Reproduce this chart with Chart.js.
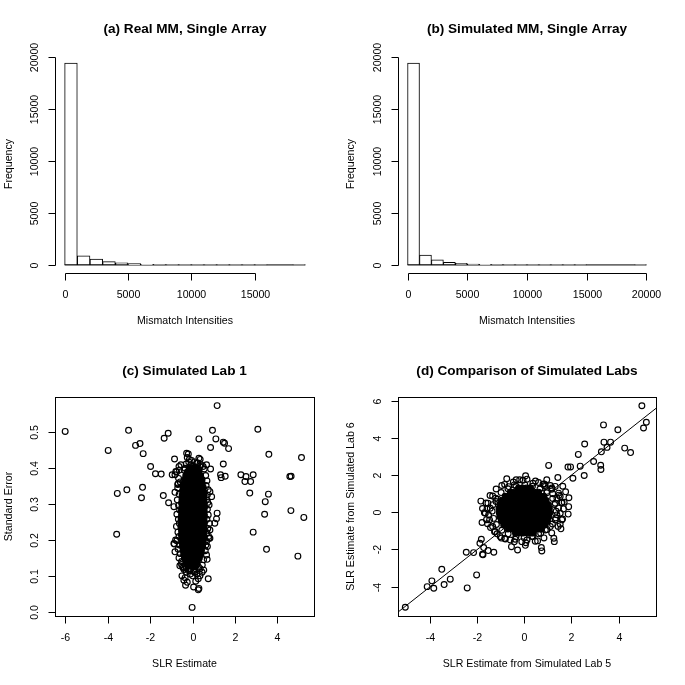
<!DOCTYPE html>
<html>
<head>
<meta charset="utf-8">
<script src="https://cdn.jsdelivr.net/npm/chart.js@4/dist/chart.umd.min.js"></script>
<style>
  html, body { margin: 0; padding: 0; background: #fff; }
  #wrap { position: relative; width: 685px; height: 685px; background: #fff; }
  canvas { position: absolute; }
</style>
</head>
<body>
<div id="wrap">
  <canvas id="pa" width="342" height="342" style="left:0;top:0"></canvas>
  <canvas id="pb" width="343" height="342" style="left:342px;top:0"></canvas>
  <canvas id="pc" width="342" height="343" style="left:0;top:342px"></canvas>
  <canvas id="pd" width="343" height="343" style="left:342px;top:342px"></canvas>
</div>
<script>
// histogram bins (width 1000) and counts
const binWidth = 1000;
const realCounts = [19400, 865, 550, 320, 190, 120, 65, 35, 20, 12, 8, 5, 3, 2, 1, 1, 0, 0, 1];
const simCounts = [19400, 940, 480, 260, 150, 90, 50, 30, 18, 10, 6, 4, 2, 1, 1, 0, 0, 0, 0, 1];

const histYTicks = [0, 5000, 10000, 15000, 20000];
const realXTicks = [0, 5000, 10000, 15000];
const simXTicks = [0, 5000, 10000, 15000, 20000];

// (c) simulated lab 1: SLR estimate vs standard error
const labOneXTicks = [-6, -4, -2, 0, 2, 4];
const labOneYTicks = [0, 0.1, 0.2, 0.3, 0.4, 0.5];
const labOneYLabels = ['0.0', '0.1', '0.2', '0.3', '0.4', '0.5'];

const labOneSparse = [
  [-6.01, 0.503], [-3.98, 0.450], [-3.02, 0.506], [-2.69, 0.464], [-2.48, 0.469],
  [-2.33, 0.441], [-3.55, 0.330], [-3.10, 0.340], [-3.58, 0.216], [-2.36, 0.347],
  [-2.41, 0.318], [-1.98, 0.405], [-1.75, 0.385], [-1.48, 0.384], [-1.34, 0.484],
  [-1.15, 0.498], [-1.38, 0.324], [-1.13, 0.304], [-0.85, 0.426], [0.30, 0.482],
  [1.16, 0.575], [0.94, 0.506], [1.10, 0.482], [0.85, 0.458], [1.45, 0.473],
  [1.51, 0.470], [1.70, 0.455], [1.45, 0.412], [1.32, 0.382], [1.35, 0.374],
  [1.54, 0.378], [1.16, 0.275], [1.13, 0.259], [1.05, 0.247], [3.08, 0.509],
  [3.60, 0.439], [5.14, 0.430], [2.28, 0.382], [2.52, 0.377], [2.47, 0.363],
  [2.74, 0.363], [2.86, 0.382], [2.70, 0.331], [3.58, 0.328], [3.43, 0.307],
  [4.59, 0.377], [4.65, 0.378], [3.40, 0.272], [4.64, 0.282], [5.25, 0.263],
  [2.86, 0.222], [3.49, 0.174], [4.97, 0.155], [-0.02, 0.012], [0.30, 0.065],
  [0.27, 0.061], [0.05, 0.069], [0.74, 0.092], [-0.33, 0.074], [-0.50, 0.100],
  [-0.41, 0.088], [0.27, 0.092],
  [-0.96, 0.382], [-0.79, 0.391], [-0.68, 0.357], [-0.83, 0.333], [-0.88, 0.293],
  [-0.86, 0.189], [-0.83, 0.167], [-0.52, 0.140], [-0.47, 0.126], [0.82, 0.335],
  [0.90, 0.321], [0.82, 0.205], [0.82, 0.228], [0.69, 0.146], [0.53, 0.116],
  [0.63, 0.186], [0.85, 0.398], [0.66, 0.410], [0.50, 0.405],
  [-0.83, 0.382], [-0.75, 0.390], [-0.64, 0.405], [-0.55, 0.410], [-0.70, 0.355],
  [-0.80, 0.200], [-0.88, 0.190], [-0.60, 0.128], [-0.40, 0.118], [-0.30, 0.110],
  [0.72, 0.305], [0.78, 0.205], [0.45, 0.110], [0.20, 0.105],
  [-0.28, 0.442], [-0.20, 0.440], [-0.25, 0.430], [-0.15, 0.425], [0.30, 0.428],
  [0.36, 0.425], [0.25, 0.415], [0.40, 0.410], [0.05, 0.405], [-0.08, 0.410],
  [0.15, 0.400], [-0.35, 0.400], [0.30, 0.395],
  [-0.20, 0.115], [-0.10, 0.105], [0.00, 0.100], [0.10, 0.110], [-0.35, 0.095],
  [0.15, 0.085], [-0.25, 0.082], [0.35, 0.100],
  // ragged rim of the dense cloud
  [-0.62, 0.395], [-0.66, 0.372], [-0.58, 0.362], [-0.70, 0.345], [-0.63, 0.328],
  [-0.72, 0.312], [-0.66, 0.296], [-0.61, 0.284], [-0.74, 0.272], [-0.67, 0.258],
  [-0.62, 0.246], [-0.76, 0.238], [-0.69, 0.222], [-0.64, 0.210], [-0.74, 0.198],
  [-0.62, 0.186], [-0.68, 0.174], [-0.58, 0.162], [-0.64, 0.150], [-0.52, 0.132],
  [-0.44, 0.122], [0.55, 0.398], [0.62, 0.380], [0.68, 0.365], [0.64, 0.352],
  [0.74, 0.340], [0.70, 0.326], [0.66, 0.312], [0.78, 0.298], [0.70, 0.286],
  [0.74, 0.270], [0.68, 0.258], [0.80, 0.246], [0.72, 0.232], [0.68, 0.220],
  [0.76, 0.210], [0.66, 0.196], [0.70, 0.182], [0.60, 0.170], [0.66, 0.158],
  [0.52, 0.145], [0.46, 0.130], [0.36, 0.120], [-0.30, 0.412], [-0.18, 0.418],
  [-0.05, 0.422], [0.10, 0.418], [0.22, 0.415], [0.35, 0.405], [-0.40, 0.395],
  [-0.30, 0.122], [-0.12, 0.115], [0.05, 0.112], [0.18, 0.118], [0.28, 0.125]
];

// overplotted core of (c): rows of [standard error, SLR estimates]
const labOneCoreRows = [
  [0.400, [-0.15, 0.03, 0.21]],
  [0.390, [-0.25, -0.07, 0.11, 0.29]],
  [0.380, [-0.32, -0.14, 0.04, 0.22, 0.38]],
  [0.369, [-0.38, -0.20, -0.02, 0.16, 0.34, 0.45]],
  [0.358, [-0.42, -0.24, -0.06, 0.12, 0.30, 0.46]],
  [0.347, [-0.45, -0.27, -0.09, 0.09, 0.27, 0.45, 0.50]],
  [0.336, [-0.47, -0.29, -0.11, 0.07, 0.25, 0.43, 0.52]],
  [0.325, [-0.49, -0.31, -0.13, 0.05, 0.23, 0.41, 0.55]],
  [0.314, [-0.50, -0.32, -0.14, 0.04, 0.22, 0.40, 0.54]],
  [0.303, [-0.52, -0.34, -0.16, 0.02, 0.20, 0.38, 0.56]],
  [0.292, [-0.50, -0.32, -0.14, 0.04, 0.22, 0.40, 0.57]],
  [0.281, [-0.53, -0.35, -0.17, 0.01, 0.19, 0.37, 0.55]],
  [0.270, [-0.52, -0.34, -0.16, 0.02, 0.20, 0.38, 0.56]],
  [0.259, [-0.54, -0.36, -0.18, 0.00, 0.18, 0.36, 0.54]],
  [0.248, [-0.52, -0.34, -0.16, 0.02, 0.20, 0.38, 0.56]],
  [0.237, [-0.55, -0.37, -0.19, -0.01, 0.17, 0.35, 0.53]],
  [0.226, [-0.52, -0.34, -0.16, 0.02, 0.20, 0.38, 0.55]],
  [0.215, [-0.53, -0.35, -0.17, 0.01, 0.19, 0.37, 0.52]],
  [0.204, [-0.51, -0.33, -0.15, 0.03, 0.21, 0.39, 0.53]],
  [0.193, [-0.50, -0.32, -0.14, 0.04, 0.22, 0.40, 0.50]],
  [0.182, [-0.48, -0.30, -0.12, 0.06, 0.24, 0.42, 0.48]],
  [0.171, [-0.45, -0.27, -0.09, 0.09, 0.27, 0.42]],
  [0.160, [-0.42, -0.24, -0.06, 0.12, 0.30, 0.38]],
  [0.149, [-0.38, -0.20, -0.02, 0.16, 0.32]],
  [0.138, [-0.32, -0.14, 0.04, 0.22]],
  [0.127, [-0.22, -0.04, 0.14]]
];

// (d) lab 5 vs lab 6
const compareXTicks = [-4, -2, 0, 2, 4];
const compareYTicks = [-4, -2, 0, 2, 4, 6];
const fitIntercept = 0;
const fitSlope = 1;

const compareSparse = [
  [4.99, 5.73], [5.06, 4.53], [5.18, 4.84], [3.36, 4.70], [3.97, 4.44],
  [4.26, 3.45], [4.51, 3.21], [3.38, 3.77], [3.66, 3.77], [3.51, 3.49],
  [3.27, 3.25], [3.24, 2.53], [3.25, 2.30], [2.94, 2.73], [2.56, 3.67],
  [2.29, 3.11], [2.37, 2.48], [2.54, 1.98], [2.06, 1.83], [1.96, 2.44],
  [1.85, 2.43], [1.03, 2.52], [1.42, 1.87], [1.63, 1.40], [1.89, 0.78],
  [1.69, 0.54], [1.58, 0.51], [1.86, -0.10], [1.52, -0.64], [1.55, -0.89],
  [1.27, -1.58], [0.72, -1.90], [0.74, -2.08], [0.56, -1.54], [-0.29, -2.03],
  [0.04, -1.78], [-5.06, -5.11], [-4.13, -4.00], [-3.93, -3.69], [-3.85, -4.09],
  [-3.41, -3.89], [-3.15, -3.60], [-3.51, -3.07], [-2.43, -4.07], [-2.03, -3.37],
  [-2.47, -2.15], [-2.16, -2.17], [-1.83, -1.45], [-1.89, -1.67], [-1.78, -2.26],
  [-1.76, -2.29], [-1.73, -1.90], [-1.54, -2.06], [-1.30, -2.15], [-1.78, 0.20],
  [-1.59, 0.18], [-1.35, 0.87], [-0.98, -1.39], [-1.27, -1.05], [0.05, 1.96],
  [-0.35, 1.75],
  [-0.96, 1.44], [-0.67, 1.38], [-0.43, 1.47], [-0.20, 1.75], [0.11, 1.78],
  [0.36, 1.56], [0.60, 1.60], [0.79, 1.51], [0.86, 1.44], [1.17, 1.30],
  [1.31, 1.39], [1.45, 1.03], [1.52, 0.85], [-1.55, 0.49], [-1.45, 0.22],
  [-1.52, -0.14], [-1.48, -0.41], [-1.57, -0.62], [-1.35, -0.77], [-1.24, -1.04],
  [-1.66, -0.05], [-1.21, 0.58], [-1.13, 0.70], [-1.03, -1.31], [-0.81, -1.44],
  [-0.60, -1.49], [-0.39, -1.45], [-0.11, -1.58], [0.11, -1.49], [0.32, -1.31],
  [0.60, -1.16], [0.89, -0.95], [1.10, -0.77], [1.31, -0.41], [1.38, -0.14],
  [1.45, 0.22], [1.31, 0.49], [1.38, 0.76], [1.20, 1.00], [1.59, -0.41],
  [1.52, -0.05], [0.74, 1.03], [0.89, 1.39], [1.10, 1.44],
  // ragged rim of the dense cloud
  [1.35, 0.05], [1.66, 0.18], [1.28, 0.42], [1.60, 0.52], [1.20, 0.74],
  [1.47, 0.92], [0.95, 1.05], [1.16, 1.24], [0.66, 1.25], [0.84, 1.52],
  [0.34, 1.40], [0.47, 1.68], [0.02, 1.47], [-0.06, 1.72], [-0.36, 1.42],
  [-0.47, 1.63], [-0.70, 1.26], [-0.84, 1.50], [-0.99, 1.06], [-1.20, 1.25],
  [-1.22, 0.76], [-1.46, 0.90], [-1.34, 0.41], [-1.63, 0.50], [-1.37, 0.06],
  [-1.70, -0.02], [-1.31, -0.33], [-1.61, -0.40], [-1.19, -0.66], [-1.44, -0.82],
  [-0.96, -0.97], [-1.16, -1.16], [-0.69, -1.16], [-0.84, -1.41], [-0.36, -1.32],
  [-0.43, -1.59], [-0.01, -1.37], [0.06, -1.64], [0.36, -1.30], [0.46, -1.56],
  [0.69, -1.13], [0.83, -1.38], [0.96, -0.93], [1.16, -1.11], [1.19, -0.63],
  [1.43, -0.76], [1.33, -0.31], [1.62, -0.36], [1.88, 0.30], [1.75, 1.10],
  [-1.85, 0.60], [-1.80, -0.55], [0.95, 1.75], [-0.75, 1.80], [-0.55, -1.85],
  [1.25, -1.40]
];

// overplotted core of (d): rows of [lab 6 estimate, lab 5 estimates]
const compareCoreRows = [
  [1.30, [-0.25, -0.08, 0.09, 0.26]],
  [1.08, [-0.60, -0.43, -0.26, -0.09, 0.08, 0.25, 0.42, 0.60]],
  [0.86, [-0.82, -0.65, -0.48, -0.31, -0.14, 0.03, 0.20, 0.37, 0.54, 0.71, 0.83]],
  [0.64, [-0.95, -0.78, -0.61, -0.44, -0.27, -0.10, 0.07, 0.24, 0.41, 0.58, 0.75, 0.92]],
  [0.42, [-1.04, -0.87, -0.70, -0.53, -0.36, -0.19, -0.02, 0.15, 0.32, 0.49, 0.66, 0.83, 1.00]],
  [0.20, [-1.08, -0.91, -0.74, -0.57, -0.40, -0.23, -0.06, 0.11, 0.28, 0.45, 0.62, 0.79, 0.96, 1.06]],
  [-0.02, [-1.07, -0.90, -0.73, -0.56, -0.39, -0.22, -0.05, 0.12, 0.29, 0.46, 0.63, 0.80, 0.97, 1.08]],
  [-0.24, [-1.05, -0.88, -0.71, -0.54, -0.37, -0.20, -0.03, 0.14, 0.31, 0.48, 0.65, 0.82, 0.99, 1.04]],
  [-0.46, [-0.98, -0.81, -0.64, -0.47, -0.30, -0.13, 0.04, 0.21, 0.38, 0.55, 0.72, 0.89, 0.98]],
  [-0.68, [-0.88, -0.71, -0.54, -0.37, -0.20, -0.03, 0.14, 0.31, 0.48, 0.65, 0.82, 0.88]],
  [-0.90, [-0.70, -0.53, -0.36, -0.19, -0.02, 0.15, 0.32, 0.49, 0.66, 0.72]],
  [-1.12, [-0.38, -0.21, -0.04, 0.13, 0.30, 0.38]]
];

const FONT = '"Liberation Sans", Arial, Helvetica, sans-serif';

// R style axes, labels and title, placed with the chart's own scales
const rAxes = {
  id: 'rAxes',
  afterDraw(chart, args, opts) {
    const { ctx, chartArea: a, scales } = chart;
    const sx = scales.x, sy = scales.y;
    ctx.save();
    ctx.strokeStyle = '#000';
    ctx.fillStyle = '#000';
    ctx.lineWidth = 1;

    if (opts.box) {
      ctx.strokeRect(Math.round(a.left) + 0.5, Math.round(a.top) + 0.5,
        Math.round(a.right - a.left), Math.round(a.bottom - a.top));
    }

    // x axis
    const yb = Math.round(a.bottom) + 0.5;
    const xs = opts.xTicks.map(v => Math.round(sx.getPixelForValue(v)) + 0.5);
    ctx.beginPath();
    ctx.moveTo(xs[0], yb);
    ctx.lineTo(xs[xs.length - 1], yb);
    xs.forEach(px => { ctx.moveTo(px, yb); ctx.lineTo(px, yb + 7); });
    ctx.stroke();

    ctx.font = '10.6px ' + FONT;
    ctx.textAlign = 'center';
    ctx.textBaseline = 'middle';
    xs.forEach((px, i) => ctx.fillText(opts.xLabels[i], px, a.bottom + 22));

    // y axis
    const xl = Math.round(a.left) + 0.5;
    const ys = opts.yTicks.map(v => Math.round(sy.getPixelForValue(v)) + 0.5);
    ctx.beginPath();
    ctx.moveTo(xl, ys[0]);
    ctx.lineTo(xl, ys[ys.length - 1]);
    ys.forEach(py => { ctx.moveTo(xl, py); ctx.lineTo(xl - 7, py); });
    ctx.stroke();

    ys.forEach((py, i) => {
      ctx.save();
      ctx.translate(a.left - 20, py);
      ctx.rotate(-Math.PI / 2);
      ctx.fillText(opts.yLabels[i], 0, 0);
      ctx.restore();
    });

    // axis titles
    const midX = (a.left + a.right) / 2;
    const midY = (a.top + a.bottom) / 2;
    ctx.fillText(opts.xTitle, midX, a.bottom + 48);
    ctx.save();
    ctx.translate(9.5, midY);
    ctx.rotate(-Math.PI / 2);
    ctx.fillText(opts.yTitle, 0, 0);
    ctx.restore();

    // main title
    ctx.font = 'bold 13.6px ' + FONT;
    ctx.fillText(opts.title, midX, 29.5);
    ctx.restore();
  }
};

function baseOptions(padding, xRange, yRange, axes) {
  return {
    responsive: false,
    maintainAspectRatio: false,
    devicePixelRatio: 1,
    animation: false,
    events: [],
    layout: { padding },
    plugins: { legend: { display: false }, tooltip: { enabled: false }, rAxes: axes },
    scales: {
      x: { type: 'linear', display: false, min: xRange[0], max: xRange[1], offset: false },
      y: { type: 'linear', display: false, min: yRange[0], max: yRange[1] }
    }
  };
}

function histChart(id, counts, xTicks, title, padding, xRange) {
  const bars = counts.map((c, i) => ({ x: i * binWidth + binWidth / 2, y: c }));
  const lastEdge = counts.length * binWidth;
  return new Chart(document.getElementById(id), {
    type: 'bar',
    data: {
      datasets: [
        {
          data: bars,
          backgroundColor: '#fff',
          borderColor: '#000',
          borderWidth: 1,
          borderSkipped: false,
          barPercentage: 1,
          categoryPercentage: 1
        },
        {
          type: 'line',
          data: [{ x: 0, y: 0 }, { x: lastEdge, y: 0 }],
          borderColor: '#000',
          borderWidth: 1,
          pointRadius: 0
        }
      ]
    },
    options: baseOptions(padding, xRange, [-776, 20176], {
      title,
      xTicks,
      xLabels: xTicks.map(String),
      yTicks: histYTicks,
      yLabels: histYTicks.map(String),
      xTitle: 'Mismatch Intensities',
      yTitle: 'Frequency',
      box: false
    }),
    plugins: [rAxes]
  });
}

histChart('pa', realCounts, realXTicks, '(a) Real MM, Single Array',
  { left: 55, right: 27, top: 55, bottom: 69 }, [-760, 19760]);
histChart('pb', simCounts, simXTicks, '(b) Simulated MM, Single Array',
  { left: 56, right: 29, top: 55, bottom: 69 }, [-800, 20800]);

const toPoints = list => list.map(([x, y]) => ({ x, y }));
const rowsToPoints = rows => rows.flatMap(([y, xs]) => xs.map(x => ({ x, y })));

const openStyle = {
  pointRadius: 2.9,
  pointBorderWidth: 1.15,
  pointBorderColor: '#000',
  pointBackgroundColor: 'rgba(0,0,0,0)'
};
const coreStyle = {
  pointRadius: 2.9,
  pointBorderWidth: 1.15,
  pointBorderColor: '#000',
  pointBackgroundColor: '#000'
};

new Chart(document.getElementById('pc'), {
  type: 'scatter',
  data: {
    datasets: [
      Object.assign({ data: rowsToPoints(labOneCoreRows) }, coreStyle),
      Object.assign({ data: toPoints(labOneSparse) }, openStyle)
    ]
  },
  options: baseOptions({ left: 55, right: 28, top: 55, bottom: 69 }, [-6.49, 5.73], [-0.012, 0.599], {
    title: '(c) Simulated Lab 1',
    xTicks: labOneXTicks,
    xLabels: labOneXTicks.map(String),
    yTicks: labOneYTicks,
    yLabels: labOneYLabels,
    xTitle: 'SLR Estimate',
    yTitle: 'Standard Error',
    box: true
  }),
  plugins: [rAxes]
});

const compareX = [-5.37, 5.59];
const compareY = [-5.58, 6.2];

new Chart(document.getElementById('pd'), {
  type: 'scatter',
  data: {
    datasets: [
      Object.assign({ data: rowsToPoints(compareCoreRows) }, coreStyle),
      Object.assign({ data: toPoints(compareSparse) }, openStyle),
      {
        data: compareX.map(x => ({ x, y: fitIntercept + fitSlope * x })),
        showLine: true,
        borderColor: '#000',
        borderWidth: 1,
        pointRadius: 0
      }
    ]
  },
  options: baseOptions({ left: 56, right: 29, top: 55, bottom: 69 }, compareX, compareY, {
    title: '(d) Comparison of Simulated Labs',
    xTicks: compareXTicks,
    xLabels: compareXTicks.map(String),
    yTicks: compareYTicks,
    yLabels: compareYTicks.map(String),
    xTitle: 'SLR Estimate from Simulated Lab 5',
    yTitle: 'SLR Estimate from Simulated Lab 6',
    box: true
  }),
  plugins: [rAxes]
});
</script>
</body>
</html>
